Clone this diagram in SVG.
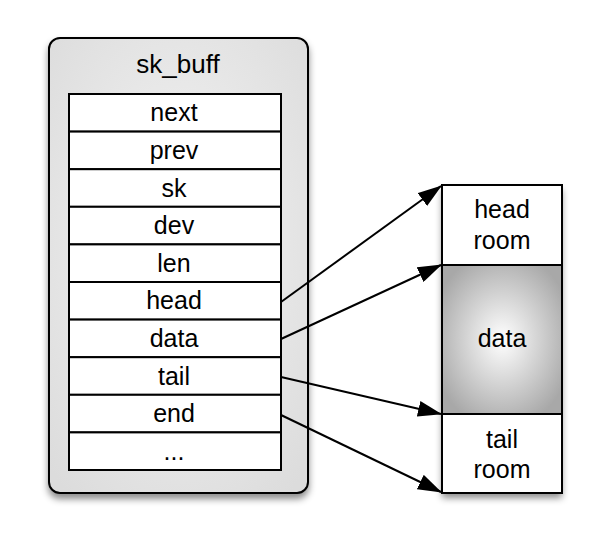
<svg xmlns="http://www.w3.org/2000/svg" width="605" height="540" viewBox="0 0 605 540">
<style>
text{font-family:"Liberation Sans",Arial,sans-serif;font-size:25px;fill:#000;text-anchor:middle}
.row{fill:#fff;stroke:#000;stroke-width:2}
.conn{stroke:#000;stroke-width:2;fill:none;marker-end:url(#ah)}
</style>
<defs>
<filter id="sh" x="-20%" y="-20%" width="140%" height="140%">
<feDropShadow dx="0" dy="5" stdDeviation="3.5" flood-color="#000" flood-opacity="0.45"/>
</filter>
<radialGradient id="gOuter" cx="50%" cy="45%" r="70%">
<stop offset="0" stop-color="#f4f4f4"/>
<stop offset="1" stop-color="#dcdcdc"/>
</radialGradient>
<radialGradient id="gData" cx="50%" cy="50%" r="60%">
<stop offset="0" stop-color="#ffffff"/>
<stop offset="1" stop-color="#a8a8a8"/>
</radialGradient>
<marker id="ah" markerUnits="userSpaceOnUse" markerWidth="24" markerHeight="16" viewBox="0 0 24 16" refX="23" refY="8" orient="auto">
<path d="M0,0 L24,8 L0,16 Z" fill="#000"/>
</marker>
</defs>
<g id="sk_buff">
<rect x="49" y="38" width="259" height="455" rx="11" fill="url(#gOuter)" stroke="#000" stroke-width="2" filter="url(#sh)"/>
<text x="178" y="73" style="font-size:26px">sk_buff</text>
</g>
<g id="fields">
<rect class="row" x="69" y="94" width="212" height="37.6"/>
<rect class="row" x="69" y="131.6" width="212" height="37.6"/>
<rect class="row" x="69" y="169.2" width="212" height="37.6"/>
<rect class="row" x="69" y="206.8" width="212" height="37.6"/>
<rect class="row" x="69" y="244.4" width="212" height="37.6"/>
<rect class="row" x="69" y="282" width="212" height="37.6"/>
<rect class="row" x="69" y="319.6" width="212" height="37.6"/>
<rect class="row" x="69" y="357.2" width="212" height="37.6"/>
<rect class="row" x="69" y="394.8" width="212" height="37.6"/>
<rect class="row" x="69" y="432.4" width="212" height="37.6"/>
<text x="174" y="121.3">next</text>
<text x="174" y="158.9">prev</text>
<text x="174" y="196.5">sk</text>
<text x="174" y="234.1">dev</text>
<text x="174" y="271.7">len</text>
<text x="174" y="309.3">head</text>
<text x="174" y="346.9">data</text>
<text x="174" y="384.5">tail</text>
<text x="174" y="422.1">end</text>
<text x="174" y="459.7">...</text>
</g>
<g id="buffer" filter="url(#sh)">
<rect x="442" y="185" width="120" height="308" fill="#fff" stroke="none"/>
</g>
<g id="headroom">
<rect x="442" y="185" width="120" height="80" fill="#fff" stroke="#000" stroke-width="2"/>
<text x="502" y="217.5">head</text>
<text x="502" y="249">room</text>
</g>
<g id="databox">
<rect x="442" y="265" width="120" height="149" fill="url(#gData)" stroke="#000" stroke-width="2"/>
<text x="502" y="347">data</text>
</g>
<g id="tailroom">
<rect x="442" y="414" width="120" height="79" fill="#fff" stroke="#000" stroke-width="2"/>
<text x="502" y="447.5">tail</text>
<text x="502" y="478">room</text>
</g>
<g id="connectors">
<line class="conn" x1="281" y1="302" x2="441" y2="186"/>
<line class="conn" x1="281" y1="339" x2="441" y2="265"/>
<line class="conn" x1="281" y1="377" x2="441" y2="414"/>
<line class="conn" x1="281" y1="415" x2="441" y2="492"/>
</g>
</svg>
